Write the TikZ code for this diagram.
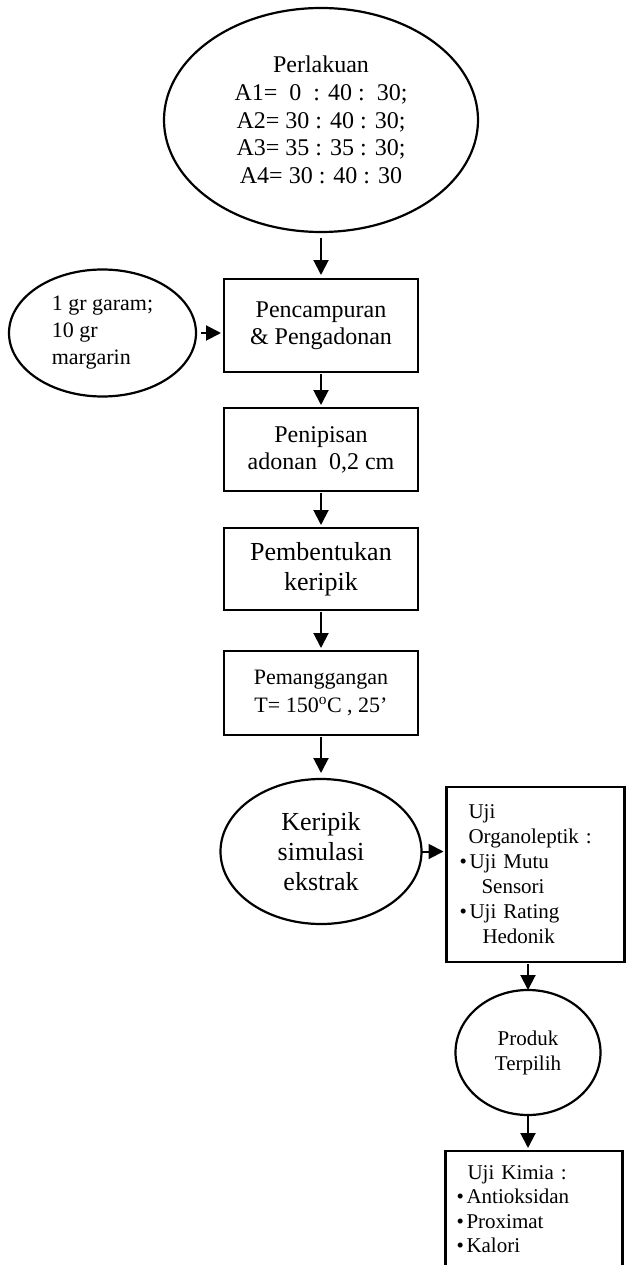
\documentclass[tikz,border=0pt]{standalone}
\usepackage{fontspec}
\setmainfont{Liberation Serif}
\usetikzlibrary{shapes.geometric, arrows.meta, positioning}
\newcommand{\fs}[2]{\fontsize{#1}{#2}\selectfont}
\newcommand{\bul}{\makebox[10pt][l]{\textbullet}}

\begin{document}
\begin{tikzpicture}[x=1pt, y=-1pt, node distance=40pt,
			box/.style={rectangle, draw=black, line width=2.4pt, align=center,
				inner sep=0pt, outer sep=0pt, minimum width=194pt},
			oval/.style={ellipse, draw=black, line width=2.2pt, align=center,
				inner sep=0pt, outer sep=0pt},
			arr/.style={-{Triangle[length=15pt, width=15pt]}, line width=2pt,
				shorten <=2pt, shorten >=3pt}]
			
			\useasboundingbox (0,0) rectangle (627,1265);
			\clip (0,0) rectangle (627,1265);
			
			\node[oval, minimum width=314pt, minimum height=224pt, font=\fs{24}{27.7}] (perl) at (321,120)
				{Perlakuan\\A1=~~0~~: 40 :~~30;\\A2= 30 : 40 : 30;\\A3= 35 : 35 : 30;\\A4= 30 : 40 : 30};
			\node[box, minimum height=93pt, font=\fs{24}{27}, below=47pt of perl] (mix) {Pencampuran\\\& Pengadonan};
			\node[oval, minimum width=187pt, minimum height=127pt, align=left, font=\fs{22}{27},
				left=28pt of mix, yshift=-7.5pt] (garam) {1 gr garam;\\10 gr\\margarin};
			\node[box, minimum height=83pt, font=\fs{24}{27}, below=36pt of mix] (tipis) {Penipisan\\adonan~~0,2 cm};
			\node[box, minimum height=82pt, font=\fs{26}{29.5}, below=37pt of tipis] (bentuk) {Pembentukan\\keripik};
			\node[box, minimum height=84pt, font=\fs{22}{28}, below=41pt of bentuk] (panggang)
				{Pemanggangan\\T= 150\textsuperscript{o}C , 25’};
			\node[oval, minimum width=201pt, minimum height=145pt, font=\fs{26}{30}, below=44pt of panggang] (keripik)
				{Keripik\\simulasi\\ekstrak};
			
			% uji lanjutan
			\node[box, minimum width=178pt, minimum height=175pt, text width=152pt, inner xsep=13pt, align=left,
				font=\fs{21}{25}, right=25pt of keripik, yshift=-23pt] (organo)
				{\hspace*{9pt}Uji\\\hspace*{9pt}Organoleptik :\\\bul Uji Mutu\\\hspace*{22pt}Sensori\\\bul Uji Rating\\\hspace*{23pt}Hedonik};
			\node[oval, minimum width=145pt, minimum height=125pt, font=\fs{21}{25}, below=28pt of organo, xshift=-7.5pt] (produk)
				{Produk\\Terpilih};
			\node[box, minimum width=177pt, text width=155pt, inner xsep=11pt, inner ysep=14.5pt, align=left,
				font=\fs{21}{24.5}, below=36pt of produk, xshift=6pt] (kimia)
				{\hspace*{11pt}Uji Kimia :\\\bul Antioksidan\\\bul Proximat\\\bul Kalori\rule[-30pt]{0pt}{30pt}};
			
			\draw[arr, shorten <=6pt, shorten >=4pt] (perl) -- (mix);
			\draw[arr, shorten <=5pt] (garam.east) -- (garam.east -| mix.west);
			\draw[arr] (mix) -- (tipis);
			\draw[arr] (tipis) -- (bentuk);
			\draw[arr] (bentuk) -- (panggang);
			\draw[arr, shorten >=6pt] (panggang) -- (keripik);
			\draw[arr, shorten <=0pt] (keripik.east) -- (keripik.east -| organo.west);
			\draw[arr, shorten >=0pt] (organo.south -| produk.north) -- (produk.north);
			\draw[arr, shorten <=0pt] (produk.south) -- (produk.south |- kimia.north);
		\end{tikzpicture}
\end{document}
